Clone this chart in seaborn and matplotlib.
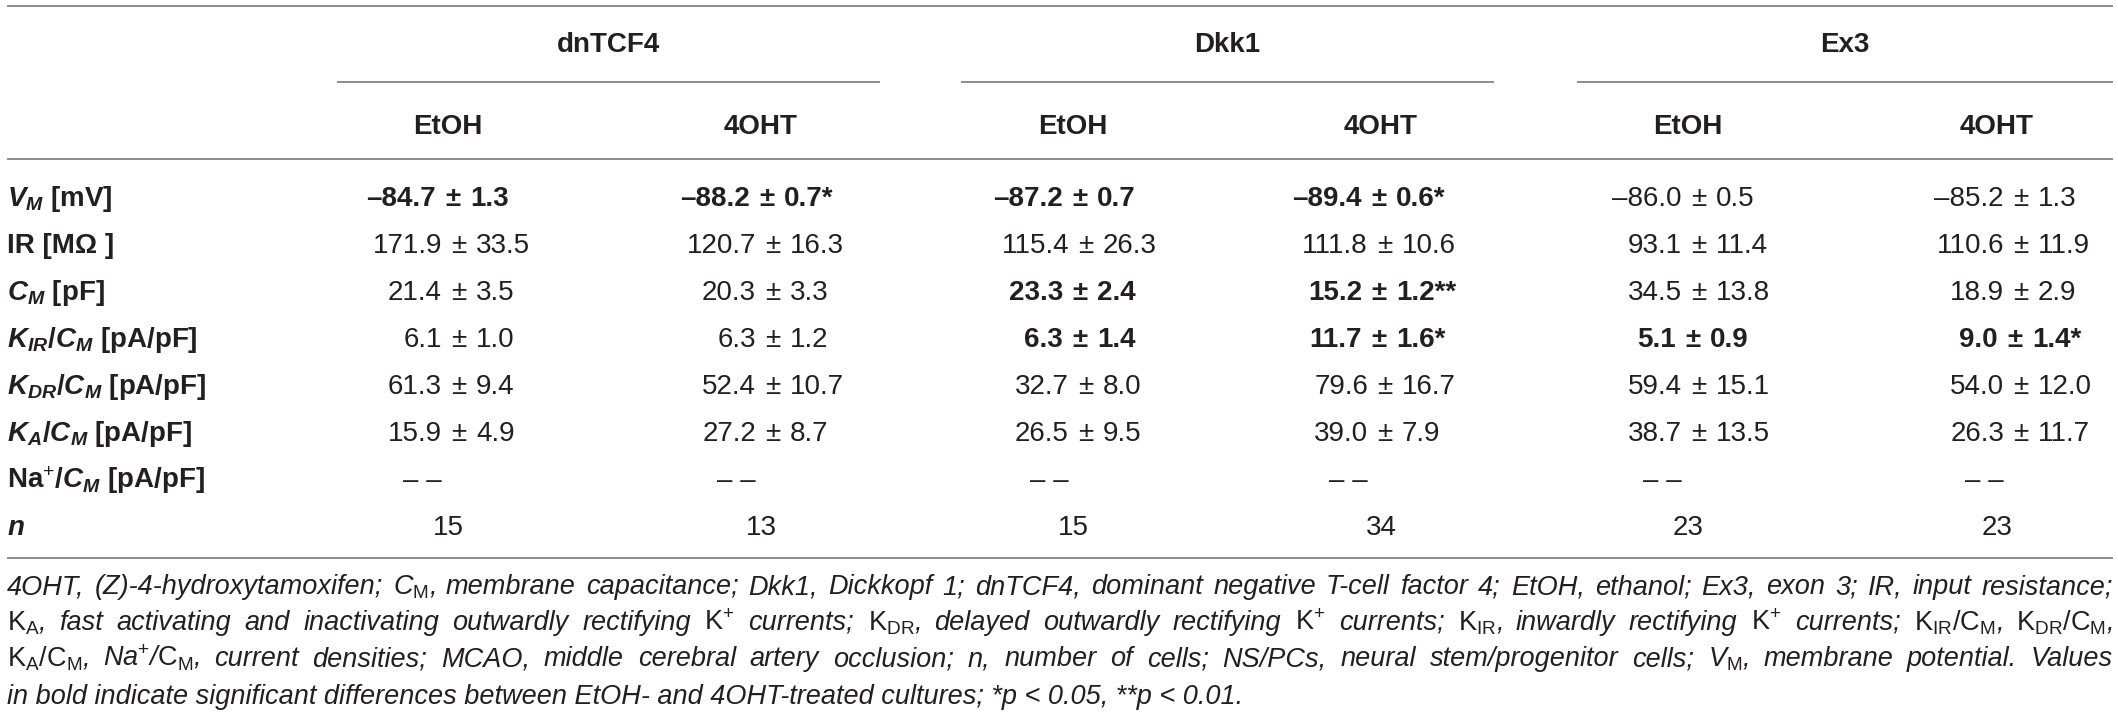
import numpy as np
import matplotlib
matplotlib.use("Agg")
import matplotlib.pyplot as plt
import seaborn as sns

# ==========================================
# data (read off the table)
# ==========================================
groups = ["dnTCF4", "Dkk1", "Ex3"]
treatments = ["EtOH", "4OHT", "EtOH", "4OHT", "EtOH", "4OHT"]

row_labels = [
    r"$\mathbfit{V}_{\mathbfit{M}}$ [mV]",
    "IR [MΩ ]",
    r"$\mathbfit{C}_{\mathbfit{M}}$ [pF]",
    r"$\mathbfit{K}_{\mathbfit{IR}}$/$\mathbfit{C}_{\mathbfit{M}}$ [pA/pF]",
    r"$\mathbfit{K}_{\mathbfit{DR}}$/$\mathbfit{C}_{\mathbfit{M}}$ [pA/pF]",
    r"$\mathbfit{K}_{\mathbfit{A}}$/$\mathbfit{C}_{\mathbfit{M}}$ [pA/pF]",
    r"Na$^{+}$/$\mathbfit{C}_{\mathbfit{M}}$ [pA/pF]",
    r"$\mathbfit{n}$",
]

vm_mean = [-84.7, -88.2, -87.2, -89.4, -86.0, -85.2]
vm_sem = [1.3, 0.7, 0.7, 0.6, 0.5, 1.3]
ir_mean = [171.9, 120.7, 115.4, 111.8, 93.1, 110.6]
ir_sem = [33.5, 16.3, 26.3, 10.6, 11.4, 11.9]
cm_mean = [21.4, 20.3, 23.3, 15.2, 34.5, 18.9]
cm_sem = [3.5, 3.3, 2.4, 1.2, 13.8, 2.9]
kir_mean = [6.1, 6.3, 6.3, 11.7, 5.1, 9.0]
kir_sem = [1.0, 1.2, 1.4, 1.6, 0.9, 1.4]
kdr_mean = [61.3, 52.4, 32.7, 79.6, 59.4, 54.0]
kdr_sem = [9.4, 10.7, 8.0, 16.7, 15.1, 12.0]
ka_mean = [15.9, 27.2, 26.5, 39.0, 38.7, 26.3]
ka_sem = [4.9, 8.7, 9.5, 7.9, 13.5, 11.7]
n_cells = [15, 13, 15, 34, 23, 23]

vm_stars = ["", "*", "", "*", "", ""]
cm_stars = ["", "", "", "**", "", ""]
kir_stars = ["", "", "", "*", "", "*"]

vm_bold = [True, True, True, True, False, False]
cm_bold = [False, False, True, True, False, False]
kir_bold = [False, False, True, True, True, True]
no_bold = [False] * 6
no_stars = [""] * 6

footnote_lines = [
    r"4OHT, (Z)-4-hydroxytamoxifen; C$_{\mathrm{M}}$, membrane capacitance; Dkk1, Dickkopf 1; dnTCF4, dominant negative T-cell factor 4; EtOH, ethanol; Ex3, exon 3; IR, input resistance;",
    r"$\mathrm{K_{A}}$, fast activating and inactivating outwardly rectifying $\mathrm{K^{+}}$ currents; $\mathrm{K_{DR}}$, delayed outwardly rectifying $\mathrm{K^{+}}$ currents; $\mathrm{K_{IR}}$, inwardly rectifying $\mathrm{K^{+}}$ currents; $\mathrm{K_{IR}/C_{M}}$, $\mathrm{K_{DR}/C_{M}}$,",
    r"$\mathrm{K_{A}/C_{M}}$, Na$^{+}$/$\mathrm{C_{M}}$, current densities; MCAO, middle cerebral artery occlusion; n, number of cells; NS/PCs, neural stem/progenitor cells; V$_{\mathrm{M}}$, membrane potential. Values",
    r"in bold indicate significant differences between EtOH- and 4OHT-treated cultures; *p < 0.05, **p < 0.01.",
]

# ==========================================
# layout (pixels, figure is 2118 x 721)
# ==========================================
W, H = 2118, 721
TXT = "#231f20"
RULE = "#8c8c8c"
FS = 20
FS_NOTE = 19.5

col_center = [448, 761, 1073, 1381, 1688, 1997]
pm_x = [459, 773, 1086, 1385, 1699, 2021]
group_span = [(337, 880), (961, 1494), (1577, 2113)]
row_y = [196 + 47 * i for i in range(8)]
note_y = [586, 622, 658, 695]

sns.set_theme(style="white")
plt.rcParams["font.family"] = ["Liberation Sans", "DejaVu Sans"]
plt.rcParams["mathtext.fontset"] = "custom"
plt.rcParams["mathtext.rm"] = "Liberation Sans"
plt.rcParams["mathtext.sf"] = "Liberation Sans"
plt.rcParams["mathtext.it"] = "Liberation Sans:italic"
plt.rcParams["mathtext.bf"] = "Liberation Sans:bold"
plt.rcParams["mathtext.bfit"] = "Liberation Sans:italic:bold"

fig = plt.figure(figsize=(W / 100, H / 100), dpi=100)
ax = fig.add_axes([0, 0, 1, 1])
ax.set_xlim(0, W)
ax.set_ylim(H, 0)
ax.axis("off")


def fmt(v):
    return f"{v:.1f}".replace("-", "–")


def rule(y, x0=7, x1=2113):
    ax.plot([x0, x1], [y, y], color=RULE, lw=1.4, solid_capstyle="butt")


# rules
rule(5.5)
for x0, x1 in group_span:
    rule(82, x0, x1)
rule(159)
rule(558)

# headers
for g, (x0, x1) in zip(groups, group_span):
    ax.text((x0 + x1) / 2, 42 + 10, g, ha="center", va="baseline",
            fontsize=FS, fontweight="bold", color=TXT)
for t, x in zip(treatments, col_center):
    ax.text(x, 124 + 10, t, ha="center", va="baseline",
            fontsize=FS, fontweight="bold", color=TXT)

# row labels
for lab, y in zip(row_labels, row_y):
    ax.text(7, y + 10, lab, ha="left", va="baseline",
            fontsize=FS, fontweight="bold", color=TXT)

# value cells, aligned on the ± sign
rows = [
    (vm_mean, vm_sem, vm_stars, vm_bold),
    (ir_mean, ir_sem, no_stars, no_bold),
    (cm_mean, cm_sem, cm_stars, cm_bold),
    (kir_mean, kir_sem, kir_stars, kir_bold),
    (kdr_mean, kdr_sem, no_stars, no_bold),
    (ka_mean, ka_sem, no_stars, no_bold),
]
for (means, sems, stars, bold), y in zip(rows, row_y):
    for j in range(6):
        w = "bold" if bold[j] else "normal"
        x = pm_x[j] - (6 if bold[j] else 0)
        kw = dict(va="baseline", fontsize=FS, fontweight=w, color=TXT)
        ax.text(x - 17, y + 10, fmt(means[j]), ha="right", **kw)
        ax.text(x, y + 10, "±", ha="center", **kw)
        ax.text(x + 17, y + 10, fmt(sems[j]) + stars[j], ha="left", **kw)

# Na+ row: not detected
for j in range(6):
    ax.text(pm_x[j] - 37, row_y[6] + 10, "– –", ha="center", va="baseline",
            fontsize=FS, color=TXT)

# n row
for j in range(6):
    ax.text(col_center[j], row_y[7] + 10, str(n_cells[j]), ha="center",
            va="baseline", fontsize=FS, color=TXT)

# footnote, first lines justified to the table width
renderer = fig.canvas.get_renderer()
for i, (line, y) in enumerate(zip(footnote_lines, note_y)):
    kw = dict(va="baseline", fontsize=FS_NOTE, style="italic", color=TXT)
    if i == len(footnote_lines) - 1:
        ax.text(7, y + 8.5, line, ha="left", **kw)
        continue
    words = line.split(" ")
    texts = [ax.text(0, y + 8.5, w, ha="left", **kw) for w in words]
    widths = [t.get_window_extent(renderer).width for t in texts]
    gap = max((2113 - 7 - sum(widths)) / (len(words) - 1), 3)
    x = 7
    for t, wd in zip(texts, widths):
        t.set_x(x)
        x += wd + gap

fig.savefig("out.png", dpi=100, facecolor="white")
